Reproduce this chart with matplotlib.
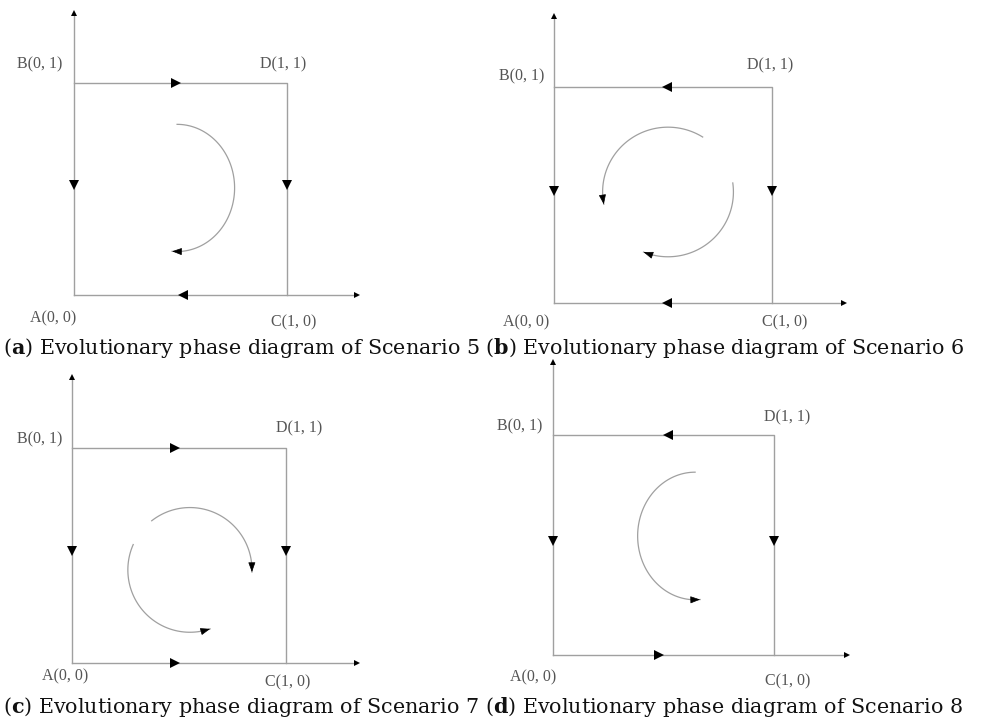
import numpy as np
import matplotlib
matplotlib.use("Agg")
import matplotlib.pyplot as plt

plt.rcParams['mathtext.fontset'] = 'dejavuserif'

W, H = 984, 722

# corner labels
corner_names = ['A(0, 0)', 'B(0, 1)', 'C(1, 0)', 'D(1, 1)']

# label positions (data units) per panel, order A, B, C, D
label_pos = {
    'a': [(-0.10, -0.11), (-0.16, 1.09), (1.03, -0.13), (0.98, 1.09)],
    'b': [(-0.13, -0.09), (-0.15, 1.05), (1.06, -0.09), (0.99, 1.10)],
    'c': [(-0.03, -0.06), (-0.15, 1.04), (1.01, -0.09), (1.06, 1.09)],
    'd': [(-0.09, -0.10), (-0.15, 1.04), (1.06, -0.12), (1.06, 1.08)],
}

# edge arrows: (position along edge, direction) for top, left, right, bottom
edge_arrows = {
    'a': [(0.48, '>'), (0.52, 'v'), (0.52, 'v'), (0.51, '<')],
    'b': [(0.52, '<'), (0.52, 'v'), (0.52, 'v'), (0.52, '<')],
    'c': [(0.48, '>'), (0.52, 'v'), (0.52, 'v'), (0.48, '>')],
    'd': [(0.52, '<'), (0.52, 'v'), (0.52, 'v'), (0.48, '>')],
}

# trajectory arcs: centre x, centre y, rx, ry, start angle, end angle (deg)
arcs = {
    'a': [(0.484, 0.505, 0.27, 0.30, 90, -95)],
    'b': [(0.523, 0.514, 0.30, 0.30, 58, 191),
          (0.523, 0.514, 0.30, 0.30, 8, -112)],
    'c': [(0.551, 0.433, 0.29, 0.29, 128, -2),
          (0.551, 0.433, 0.29, 0.29, 156, 289)],
    'd': [(0.643, 0.541, 0.26, 0.29, 90, 275)],
}

scenario = {'a': 5, 'b': 6, 'c': 7, 'd': 8}

# pixel placement of A and D corners for each panel
placement = {
    'a': ((74, 295), (287, 83)),
    'b': ((554, 303), (772, 87)),
    'c': ((72, 663), (286, 448)),
    'd': ((553, 655), (774, 435)),
}

AXIS_LEN = 1.33
XL = (-0.4, 1.5)
YL = (-0.25, 1.45)
LINE_C = '#a0a0a0'
TEXT_C = '#555555'

fig = plt.figure(figsize=(W / 100, H / 100), dpi=100)

for key in ['a', 'b', 'c', 'd']:
    (ax0, ay0), (dx, dy) = placement[key]
    sx = dx - ax0
    sy = ay0 - dy
    left = (ax0 + XL[0] * sx) / W
    width = (XL[1] - XL[0]) * sx / W
    bottom = 1 - (ay0 - YL[0] * sy) / H
    height = (YL[1] - YL[0]) * sy / H
    ax = fig.add_axes([left, bottom, width, height])
    ax.set_xlim(*XL)
    ax.set_ylim(*YL)
    ax.axis('off')

    # axes with arrows
    ax.plot([0, AXIS_LEN], [0, 0], color=LINE_C, lw=1)
    ax.plot([0, 0], [0, AXIS_LEN], color=LINE_C, lw=1)
    ax.plot(AXIS_LEN, 0, marker='>', color='black', ms=4, mew=0)
    ax.plot(0, AXIS_LEN, marker='^', color='black', ms=4, mew=0)
    # square
    ax.plot([0, 1, 1], [1, 1, 0], color=LINE_C, lw=1)

    top, lft, rgt, bot = edge_arrows[key]
    ax.plot(top[0], 1, marker=top[1], color='black', ms=6.5, mew=0)
    ax.plot(0, lft[0], marker=lft[1], color='black', ms=6.5, mew=0)
    ax.plot(1, rgt[0], marker=rgt[1], color='black', ms=6.5, mew=0)
    ax.plot(bot[0], 0, marker=bot[1], color='black', ms=6.5, mew=0)

    for cx, cy, rx, ry, t0, t1 in arcs[key]:
        t = np.radians(np.linspace(t0, t1, 80))
        xs = cx + rx * np.cos(t)
        ys = cy + ry * np.sin(t)
        ax.plot(xs, ys, color=LINE_C, lw=0.9)
        ax.annotate('', xy=(xs[-1], ys[-1]), xytext=(xs[-4], ys[-4]),
                    arrowprops=dict(arrowstyle='-|>,head_length=0.6,head_width=0.22',
                                    color='black', lw=0.5,
                                    shrinkA=0, shrinkB=0))

    for name, (lx, ly) in zip(corner_names, label_pos[key]):
        ax.text(lx, ly, name, ha='center', va='center', fontsize=11.5,
                color=TEXT_C, family='Liberation Serif')

caption1 = (r"($\mathbf{a}$) Evolutionary phase diagram of Scenario 5 "
            r"($\mathbf{b}$) Evolutionary phase diagram of Scenario 6")
caption2 = (r"($\mathbf{c}$) Evolutionary phase diagram of Scenario 7 "
            r"($\mathbf{d}$) Evolutionary phase diagram of Scenario 8")
fig.text(3 / W, 1 - 348 / H, caption1, ha='left', va='center',
         fontsize=14.9, family='DejaVu Serif', color='#111111')
fig.text(3 / W, 1 - 707 / H, caption2, ha='left', va='center',
         fontsize=14.9, family='DejaVu Serif', color='#111111')

fig.savefig('out.png', dpi=100, facecolor='white')
